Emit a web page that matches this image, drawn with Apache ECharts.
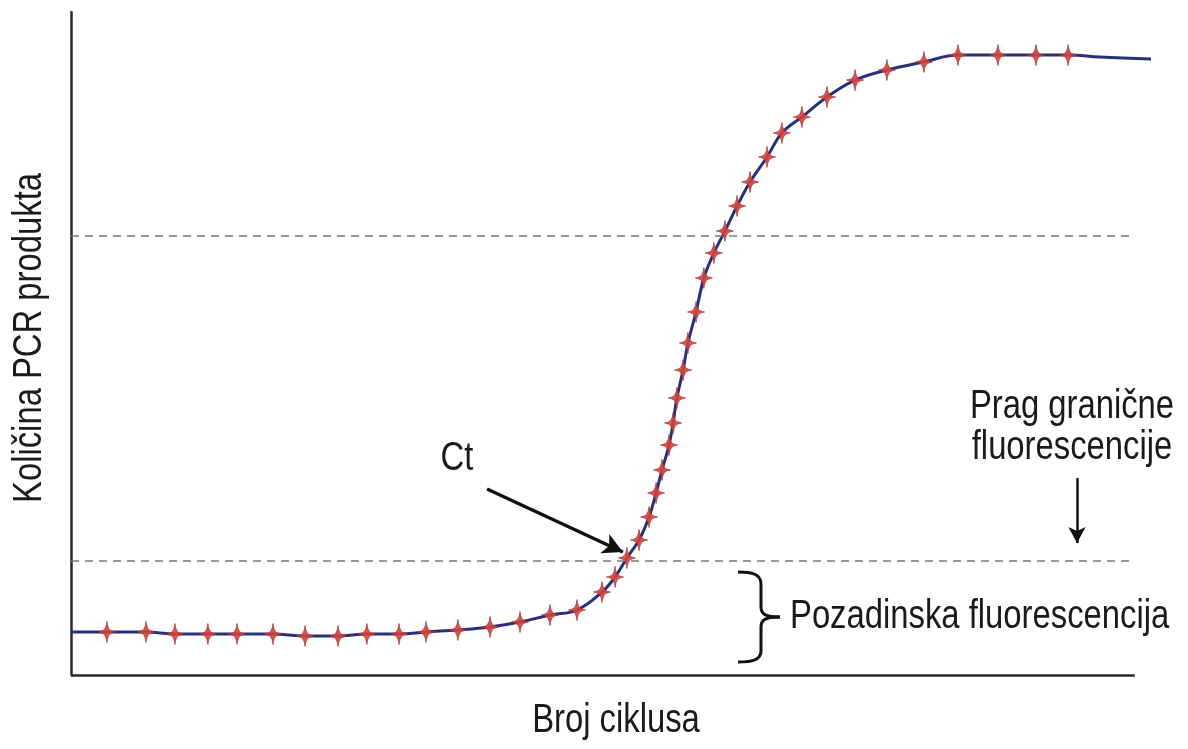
<!DOCTYPE html>
<html>
<head>
<meta charset="utf-8">
<script src="https://cdn.jsdelivr.net/npm/echarts@6/dist/echarts.min.js"></script>
<style>
  html, body { margin: 0; background: #fff; }
  #chart { width: 1188px; height: 749px; }
</style>
</head>
<body>
<div id="chart"></div>
<script>
// ciklusi i kolicina produkta (ocitano sa slike)
const cycles = [1.33, 2.78, 3.85, 5.07, 6.15, 7.48, 8.67, 9.89, 10.96, 12.15, 13.15, 14.33, 15.52, 16.63,
  17.74, 18.74, 19.67, 20.15, 20.59, 21.04, 21.41, 21.67, 21.89, 22.15, 22.3, 22.44, 22.67, 22.85, 23.15,
  23.44, 23.81, 24.22, 24.67, 25.15, 25.78, 26.33, 27.07, 28.0, 29.04, 30.22, 31.59, 32.85, 34.33, 35.74, 36.93]
const product = [6.49, 6.49, 6.18, 6.18, 6.18, 6.18, 5.88, 5.88, 6.18, 6.18, 6.49, 6.79, 7.24, 7.99,
  9.05, 9.8, 12.52, 14.78, 17.65, 20.36, 23.83, 27.45, 30.92, 34.69, 38.01, 41.78, 46.0, 50.08, 54.75,
  59.88, 63.65, 66.97, 70.74, 74.36, 78.13, 81.75, 84.16, 87.18, 89.74, 91.25, 92.46, 93.51, 93.51, 93.51, 93.51]
// krivulja ide od osi do kraja (bez markera na krajevima)
const curveCycles = [0, ...cycles, 38.1, 40]
const curveProduct = [6.49, ...product, 93.2, 92.9]

const thresholdLevel = 17.2   // prag granicne fluorescencije
const upperLevel = 66.2
const dashEnd = 39.2
const axisEnd = 39.4

const ctArrow = [[15.41, 28.05], [20.44, 18.55]]
const pragArrow = [[37.26, 29.7], [37.26, 19.9]]

// nema Arial Narrow, pa se Liberation Sans suzava
const FONT = '40px "Liberation Sans", Arial, sans-serif'
const NARROW = 0.82
const TXT = '#1a1a1a'
const star = 'path://M0,-10 C1,-2.5 2.5,-1 8,0 C2.5,1 1,2.5 0,10 C-1,2.5 -2.5,1 -8,0 C-2.5,-1 -1,-2.5 0,-10 Z'

function label(text, x, y, align, rotation) {
  return {
    type: 'text', x: x, y: y, scaleX: NARROW, rotation: rotation || 0,
    style: { text: text, font: FONT, fill: TXT, lineHeight: 41, textAlign: align || 'center', textVerticalAlign: 'middle' },
  }
}
function curve(x1, y1, cpx1, cpy1, cpx2, cpy2, x2, y2) {
  return {
    type: 'bezierCurve',
    shape: { x1, y1, cpx1, cpy1, cpx2, cpy2, x2, y2 },
    style: { stroke: '#111', lineWidth: 3, fill: null },
  }
}

const chart = echarts.init(document.getElementById('chart'))
const option = {
  animation: false,
  grid: { left: 71, right: 37, top: 12, bottom: 74 },
  xAxis: {
    type: 'value',
    min: 0,
    max: 40,
    axisLine: { show: false },
    axisTick: { show: false },
    axisLabel: { show: false },
    splitLine: { show: false },
  },
  yAxis: {
    type: 'value',
    min: 0,
    max: 100,
    axisLine: { show: true, lineStyle: { color: '#2a2a2a', width: 2.5 } },
    axisTick: { show: false },
    axisLabel: { show: false },
    splitLine: { show: false },
  },
  series: [
    {
      type: 'line',
      data: curveCycles.map((c, i) => [c, curveProduct[i]]),
      smooth: 0.4,
      showSymbol: false,
      clip: false,
      lineStyle: { color: '#27307a', width: 3 },
      z: 3,
      markLine: {
        silent: true,
        symbol: 'none',
        label: { show: false },
        data: [
          [{ coord: [0, upperLevel], lineStyle: { color: '#7a7a7a', width: 1.5, type: [8, 6] } }, { coord: [dashEnd, upperLevel] }],
          [{ coord: [0, thresholdLevel], lineStyle: { color: '#7a7a7a', width: 1.5, type: [8, 6] } }, { coord: [dashEnd, thresholdLevel] }],
          [{ coord: [0, 0], lineStyle: { color: '#2a2a2a', width: 2.5, type: 'solid' } }, { coord: [axisEnd, 0] }],
          [{ coord: ctArrow[0], symbol: 'none', lineStyle: { color: '#111', width: 3.5, type: 'solid' } },
           { coord: ctArrow[1], symbol: 'arrow', symbolSize: [16, 20] }],
          [{ coord: pragArrow[0], symbol: 'none', lineStyle: { color: '#111', width: 2.5, type: 'solid' } },
           { coord: pragArrow[1], symbol: 'arrow', symbolSize: [13, 16] }],
        ],
      },
    },
    {
      type: 'scatter',
      data: cycles.map((c, i) => [c, product[i]]),
      symbol: star,
      symbolSize: [17, 21],
      itemStyle: { color: '#d4433c', borderColor: '#a33030', borderWidth: 0.8, opacity: 0.9 },
      z: 4,
    },
  ],
  graphic: [
    label('Broj ciklusa', 616, 721),
    label('Količina PCR produkta', 30, 338, 'center', Math.PI / 2),
    label('Ct', 457, 459),
    label('Prag granične\nfluorescencije', 1072, 427),
    label('Pozadinska fluorescencija', 790, 617, 'left'),
    // viticasta zagrada
    curve(738, 572, 752, 572, 761, 574, 761, 584),
    { type: 'line', shape: { x1: 761, y1: 584, x2: 761, y2: 607 }, style: { stroke: '#111', lineWidth: 3 } },
    curve(761, 607, 761, 614, 765, 617, 780, 617),
    curve(780, 617, 765, 617, 761, 620, 761, 627),
    { type: 'line', shape: { x1: 761, y1: 627, x2: 761, y2: 651 }, style: { stroke: '#111', lineWidth: 3 } },
    curve(761, 651, 761, 660, 752, 662, 738, 662),
  ],
}
chart.setOption(option)
</script>
</body>
</html>
